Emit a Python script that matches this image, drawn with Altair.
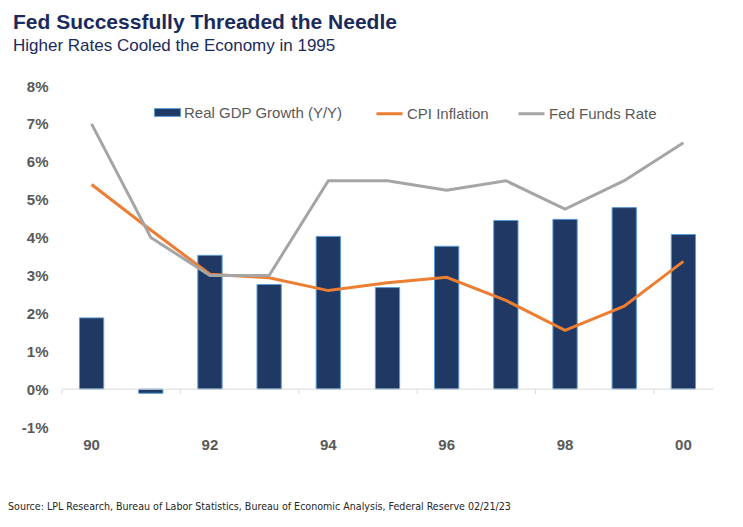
import altair as alt
import pandas as pd

years = ["90", "91", "92", "93", "94", "95", "96", "97", "98", "99", "00"]
gdp = [1.88, -0.11, 3.53, 2.76, 4.03, 2.68, 3.77, 4.45, 4.48, 4.79, 4.08]
cpi = [5.4, 4.2, 3.03, 2.94, 2.6, 2.81, 2.95, 2.34, 1.55, 2.19, 3.37]
fed = [7.0, 4.0, 3.0, 3.0, 5.5, 5.5, 5.25, 5.5, 4.75, 5.5, 6.5]
label_years = ["90", "92", "94", "96", "98", "00"]
y_ticks = [-1, 0, 1, 2, 3, 4, 5, 6, 7, 8]

bar_name = "Real GDP Growth (Y/Y)"
line_names = ["CPI Inflation", "Fed Funds Rate"]
title_text = "Fed Successfully Threaded the Needle"
subtitle_text = "Higher Rates Cooled the Economy in 1995"
source_text = "Source: LPL Research, Bureau of Labor Statistics, Bureau of Economic Analysis, Federal Reserve 02/21/23"

FONT = "Liberation Sans"
NAVY = "#1F3864"
GRAY_TXT = "#595959"

bars_df = pd.DataFrame({"year": years, "value": gdp, "series": bar_name})
lines_df = pd.concat([
    pd.DataFrame({"year": years, "value": cpi, "series": line_names[0]}),
    pd.DataFrame({"year": years, "value": fed, "series": line_names[1]}),
])
ticks_df = pd.DataFrame({"year": label_years})
source_df = pd.DataFrame({"t": [source_text]})

x_scale = alt.Scale(domain=years, paddingInner=0, paddingOuter=0)
y_scale = alt.Scale(domain=[-1, 8], nice=False)

x_axis = alt.Axis(values=label_years, title=None, bandPosition=0.5)
y_axis = alt.Axis(values=y_ticks, title=None, labelExpr="datum.value + '%'")

bars = alt.Chart(bars_df).mark_bar(
    width=alt.RelativeBandSize(0.41), stroke="#5B9BD5", strokeWidth=1
).encode(
    x=alt.X("year:N", scale=x_scale, sort=years, axis=x_axis),
    y=alt.Y("value:Q", scale=y_scale, axis=y_axis),
    fill=alt.Fill("series:N", scale=alt.Scale(domain=[bar_name], range=[NAVY]),
                  legend=alt.Legend(title=None, orient="none", legendX=92, legendY=13,
                                    symbolType="M-1,-0.3H1V0.3H-1Z", symbolSize=676,
                                    symbolStrokeColor="#5B9BD5", symbolStrokeWidth=1,
                                    labelFont=FONT, labelFontSize=15, labelColor=GRAY_TXT,
                                    labelOffset=3, padding=0)),
)

zero = alt.Chart(source_df).mark_rule(color="#D9D9D9", strokeWidth=1).encode(
    y=alt.datum(0, axis=y_axis)
)

ticks = alt.Chart(ticks_df).mark_rule(color="#D9D9D9", strokeWidth=1).encode(
    x=alt.X("year:N", bandPosition=0, sort=years, axis=x_axis),
    y=alt.datum(0, axis=y_axis),
    y2=alt.datum(-0.13),
)

lines = alt.Chart(lines_df).mark_line(strokeWidth=3).encode(
    x=alt.X("year:N", sort=years, bandPosition=0.5, axis=x_axis),
    y=alt.Y("value:Q", axis=y_axis),
    stroke=alt.Stroke("series:N",
                      scale=alt.Scale(domain=line_names, range=["#ED7D31", "#A5A5A5"]),
                      legend=alt.Legend(title=None, orient="none", direction="horizontal",
                                        legendX=313, legendY=13, symbolType="stroke",
                                        symbolSize=676, symbolStrokeWidth=3,
                                        labelFont=FONT, labelFontSize=15, labelColor=GRAY_TXT,
                                        labelOffset=3, columnPadding=23, padding=0)),
)

source = alt.Chart(source_df).mark_text(
    align="left", baseline="middle", font="DejaVu Sans Condensed, Liberation Sans",
    fontSize=10.6, color="#262626"
).encode(text="t:N", x=alt.value(-54), y=alt.value(421))

chart = alt.layer(bars, zero, ticks, lines, source).resolve_legend(
    fill="independent", stroke="independent"
).properties(
    width=651,
    height=341,
    autosize=alt.AutoSizeParams(type="none"),
    padding={"left": 62, "top": 86, "right": 30, "bottom": 100},
    title=alt.TitleParams(text=title_text, subtitle=subtitle_text, anchor="start",
                          frame="group", dx=-49, offset=25, font=FONT, fontSize=21,
                          fontWeight="bold", color="#1B2A5C", subtitleFont=FONT,
                          subtitleFontSize=17, subtitleColor="#1B2A5C", subtitlePadding=5),
).configure_view(stroke=None).configure_axisX(
    domain=False, ticks=False, grid=False, labelAngle=0, labelAlign="center",
    labelFont=FONT, labelFontSize=15, labelFontWeight="bold", labelColor=GRAY_TXT,
    labelPadding=10,
).configure_axisY(
    domain=False, ticks=False, grid=False, labelOverlap=False, labelFlush=False,
    labelBound=False, labelFont=FONT, labelFontSize=15, labelFontWeight="bold",
    labelColor=GRAY_TXT, labelPadding=14,
)

chart.save("out.html", embed_options={"renderer": "svg", "actions": False})
